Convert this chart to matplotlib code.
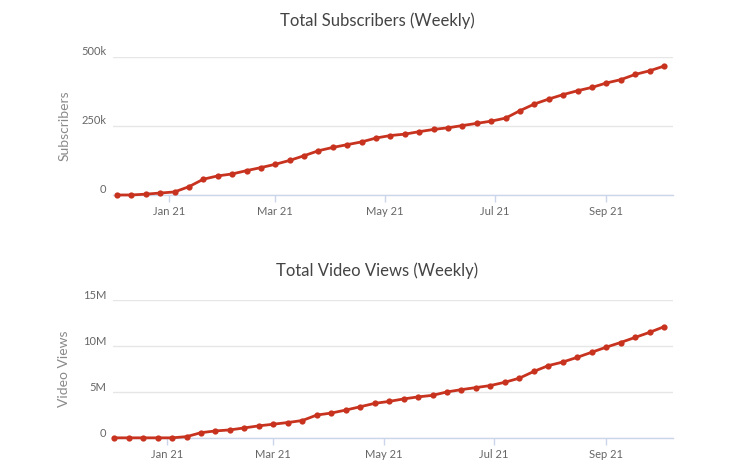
import matplotlib
matplotlib.use("Agg")
import matplotlib.pyplot as plt
import matplotlib.dates as mdates
from matplotlib.transforms import ScaledTranslation
import pandas as pd

plt.rcParams['font.family'] = ['Lato', 'DejaVu Sans']

# points are about 8 days apart in the picture
dates = pd.date_range("2020-12-03", periods=39, freq="8D")

subscribers = [0, 0, 3, 7, 11, 30, 57, 69, 76, 88,
               99, 111, 125, 142, 160, 172, 182, 192, 206, 215,
               220, 229, 237, 243, 251, 259, 267, 278, 305, 329,
               347, 363, 377, 389, 405, 417, 436, 449, 466]
subscribers = [v * 1000 for v in subscribers]

views = [0.05, 0.05, 0.05, 0.05, 0.05, 0.18, 0.61, 0.80, 0.91, 1.13,
         1.35, 1.53, 1.71, 1.93, 2.52, 2.74, 3.06, 3.42, 3.79, 4.00,
         4.27, 4.49, 4.66, 5.03, 5.28, 5.50, 5.72, 6.08, 6.52, 7.25,
         7.88, 8.27, 8.78, 9.33, 9.88, 10.39, 10.94, 11.49, 12.10]
views = [v * 1e6 for v in views]

month_ticks = pd.to_datetime(["2021-01-01", "2021-03-01", "2021-05-01",
                              "2021-07-01", "2021-09-01"])

sub_ticks = [0, 250000, 500000]
sub_labels = ["0", "250k", "500k"]
view_ticks = [0, 5e6, 10e6, 15e6]
view_labels = ["0", "5M", "10M", "15M"]

LINE = "#c8331f"
AXIS = "#ccd6eb"
GRID = "#e6e6e6"

fig = plt.figure(figsize=(7.33, 4.72), dpi=100)
ax1 = fig.add_axes([0.1546, 0.5869, 0.7636, 0.2930])
ax2 = fig.add_axes([0.1546, 0.0714, 0.7636, 0.2930])


def style(ax, x, y, yticks, ylabels, ymax, xlim, title, title_pad, ylabel):
    ax.plot(x, y, color=LINE, lw=2.0, marker="o", ms=4.5,
            markeredgewidth=0, solid_joinstyle="round", clip_on=False, zorder=3)
    ax.set_ylim(0, ymax)
    ax.set_xlim(pd.Timestamp(xlim[0]), pd.Timestamp(xlim[1]))
    ax.set_yticks(yticks)
    ax.set_yticklabels(ylabels)
    ax.set_xticks(month_ticks)
    ax.xaxis.set_major_formatter(mdates.DateFormatter("%b %y"))
    for s in ["top", "right", "left"]:
        ax.spines[s].set_visible(False)
    ax.spines["bottom"].set_color(AXIS)
    ax.spines["bottom"].set_linewidth(1.0)
    ax.grid(axis="y", color=GRID, lw=1.0)
    ax.set_axisbelow(True)
    ax.tick_params(axis="x", length=5, width=1, color=AXIS, pad=3,
                   labelsize=8, labelcolor="#666666")
    ax.tick_params(axis="y", length=0, pad=5, labelsize=8, labelcolor="#666666")
    # y labels sit a bit above their grid lines
    offset = ScaledTranslation(0, 6 / 100, fig.dpi_scale_trans)
    for lab in ax.get_yticklabels():
        lab.set_transform(lab.get_transform() + offset)
    ax.set_title(title, fontsize=12, color="#444444", pad=title_pad, x=0.472)
    ax.set_ylabel(ylabel, fontsize=10, color="#8a8a8a")
    ax.yaxis.set_label_coords(-0.077, 0.5)


style(ax1, dates, subscribers, sub_ticks, sub_labels, 500000,
      ("2020-12-01", "2021-10-08"), "Total Subscribers (Weekly)", 22, "Subscribers")
style(ax2, dates, views, view_ticks, view_labels, 15e6,
      ("2020-12-02 12:00", "2021-10-08"), "Total Video Views (Weekly)", 17, "Video Views")

fig.savefig("out.png", dpi=100)
